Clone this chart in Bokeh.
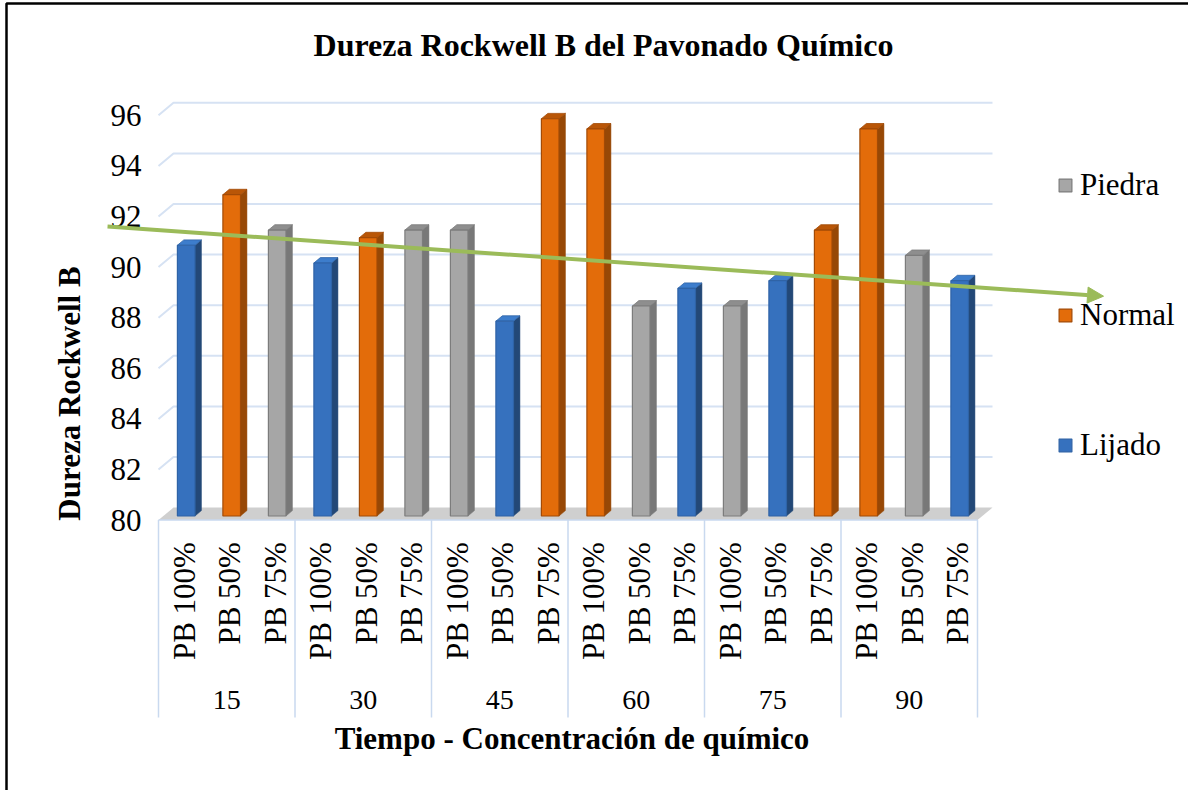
import math
from bokeh.plotting import figure
from bokeh.models import (Range1d, FixedTicker, ColumnDataSource, Legend, LegendItem,
                          Arrow, NormalHead, LinearAxis)
from bokeh.core.properties import value
from bokeh.embed import file_html
from bokeh.resources import INLINE

# ---------------- data ----------------
tiempos = ["15", "30", "45", "60", "75", "90"]
concentraciones = ["PB 100%", "PB 50%", "PB 75%"]
# one slot per category (tiempo x concentración); None = bar belongs to another series
lijado = [90.7, None, None, 90.0, None, None, None, 87.7, None,
          None, None, 89.0, None, 89.3, None, None, None, 89.3]
normal = [None, 92.7, None, None, 91.0, None, None, None, 95.7,
          95.3, None, None, None, None, 91.3, 95.3, None, None]
piedra = [None, None, 91.3, None, None, 91.3, 91.3, None, None,
          None, 88.3, None, 88.3, None, None, None, 90.3, None]
y_ticks = [80, 82, 84, 86, 88, 90, 92, 94, 96]
# hand-drawn trend arrow (category units, hardness units)
tendencia_x = [-1.12, 20.77]
tendencia_y = [91.6, 88.85]

# ---------------- layout constants (canvas px) ----------------
W, H = 1188, 790
PX_X = 45.5                              # px per category
PX_Y = 25.3                              # px per hardness unit
X0_PX = 158                              # canvas x of category edge 0
Y96_PX = 114.8                           # canvas y of value 96 (front plane)
Y_MIN = 80
DEPTH_X = 15 / PX_X
DEPTH_Y = 12.5 / PX_Y
FRONT_F, BACK_F = 0.33, 0.76
HALF_W = 8.8 / PX_X

def x_at(px):
    return (px - X0_PX) / PX_X

def v_at(py):
    return 96 - (py - Y96_PX) / PX_Y

SERIF = "Liberation Serif"
n_cat = len(tiempos) * len(concentraciones)

p = figure(width=W, height=H, output_backend="svg", toolbar_location=None,
           x_range=Range1d(x_at(0), x_at(W)), y_range=Range1d(v_at(H), v_at(0)),
           min_border=0)
p.outline_line_color = None
p.xgrid.visible = False
p.ygrid.visible = False
p.background_fill_color = "white"
p.border_fill_color = "white"

# outer frame of the picture (left and top edges)
p.line([x_at(6), x_at(6), x_at(W)], [v_at(H), v_at(3), v_at(3)],
       line_color="black", line_width=2.5)

# title
p.text(x=[x_at(603)], y=[v_at(44)], text=["Dureza Rockwell B del Pavonado Químico"],
       text_align="center", text_baseline="middle", text_font=value(SERIF),
       text_font_size=value("32px"), text_font_style="bold", text_color="black")

# y axis, fixed inside the frame
ya = p.yaxis[0]
ya.fixed_location = x_at(157)
ya.bounds = (74, 96)
ya.ticker = FixedTicker(ticks=y_ticks)
ya.axis_line_color = None
ya.major_tick_line_color = None
ya.minor_tick_line_color = None
ya.major_label_standoff = 10
ya.major_label_text_font = SERIF
ya.major_label_text_font_size = "31px"
ya.major_label_text_color = "black"
ya.axis_label = "Dureza Rockwell B"
ya.axis_label_text_font = SERIF
ya.axis_label_text_font_size = "31px"
ya.axis_label_text_font_style = "bold"
ya.axis_label_text_color = "black"
ya.axis_label_standoff = 21

# x axis: concentraciones (rotated, reading upwards)
sub_x = [i + 0.5 + 3 / PX_X for i in range(n_cat)]
sub_t = [c for _ in tiempos for c in concentraciones]
xa = p.xaxis[0]
xa.fixed_location = Y_MIN
xa.bounds = (0, n_cat)
xa.ticker = FixedTicker(ticks=sub_x)
xa.major_label_overrides = {x: t for x, t in zip(sub_x, sub_t)}
xa.major_label_orientation = math.pi / 2
xa.axis_line_color = None
xa.major_tick_line_color = None
xa.minor_tick_line_color = None
xa.major_label_standoff = 16
xa.major_label_text_font = SERIF
xa.major_label_text_font_size = "31px"
xa.major_label_text_color = "black"

# x axis: tiempos + axis title
grp_x = [g * len(concentraciones) + len(concentraciones) / 2 for g in range(len(tiempos))]
xg = LinearAxis(fixed_location=Y_MIN, bounds=(0, 2 * x_at(571.5)),
                ticker=FixedTicker(ticks=grp_x),
                major_label_overrides={x: t for x, t in zip(grp_x, tiempos)},
                axis_line_color=None, major_tick_line_color=None,
                minor_tick_line_color=None, major_label_standoff=165,
                major_label_text_font=SERIF, major_label_text_font_size="28px",
                major_label_text_color="black",
                axis_label="Tiempo - Concentración de químico",
                axis_label_text_font=SERIF, axis_label_text_font_size="31px",
                axis_label_text_font_style="bold", axis_label_text_color="black",
                axis_label_standoff=8)
p.add_layout(xg, "below")

# floor
p.patch([0, n_cat, n_cat + DEPTH_X, DEPTH_X],
        [Y_MIN, Y_MIN, Y_MIN + DEPTH_Y, Y_MIN + DEPTH_Y],
        fill_color="#cfcfcf", line_color=None)

# back-wall gridlines with the left diagonal stubs
grid_xs = [[0, DEPTH_X, n_cat + DEPTH_X] for v in y_ticks[1:]]
grid_ys = [[v, v + DEPTH_Y, v + DEPTH_Y] for v in y_ticks[1:]]
p.multi_line(grid_xs, grid_ys, line_color="#d6e2f3", line_width=2)

# category table lines
p.line([0, n_cat], [Y_MIN, Y_MIN], line_color="#c9d9ef", line_width=1.5)
sep_x = [g * len(concentraciones) for g in range(len(tiempos) + 1)]
sep_bottom = v_at(717)
p.segment(x0=sep_x, y0=[Y_MIN] * len(sep_x), x1=sep_x, y1=[sep_bottom] * len(sep_x),
          line_color="#c9d9ef", line_width=1.5)

# bars (pseudo 3-D)
styles = {
    "Lijado": dict(face="#3671be", line="#2f63a6", side="#234877", cap="#3d7dcc"),
    "Normal": dict(face="#e36c0a", line="#a24a06", side="#974806", cap="#b95607"),
    "Piedra": dict(face="#a6a6a6", line="#7c7c7c", side="#787878", cap="#8e8e8e"),
}
ddx = (BACK_F - FRONT_F) * DEPTH_X
ddy = (BACK_F - FRONT_F) * DEPTH_Y
face_renderers = {}
for name, vals in [("Lijado", lijado), ("Normal", normal), ("Piedra", piedra)]:
    st = styles[name]
    idx = [i for i, v in enumerate(vals) if v is not None]
    tops = [vals[i] + FRONT_F * DEPTH_Y for i in idx]
    lefts = [i + 0.5 - HALF_W + FRONT_F * DEPTH_X for i in idx]
    rights = [i + 0.5 + HALF_W + FRONT_F * DEPTH_X for i in idx]
    bottom = Y_MIN + FRONT_F * DEPTH_Y
    side_xs = [[r, r, r + ddx, r + ddx] for r in rights]
    side_ys = [[bottom, t, t + ddy, bottom + ddy] for t in tops]
    p.patches(side_xs, side_ys, fill_color=st["side"], line_color=st["side"], line_width=0.5)
    cap_xs = [[l, r, r + ddx, l + ddx] for l, r in zip(lefts, rights)]
    cap_ys = [[t, t, t + ddy, t + ddy] for t in tops]
    p.patches(cap_xs, cap_ys, fill_color=st["cap"], line_color=st["line"], line_width=0.8)
    src = ColumnDataSource(dict(left=lefts, right=rights, top=tops,
                                bottom=[bottom] * len(idx)))
    face_renderers[name] = p.quad(left="left", right="right", top="top", bottom="bottom",
                                  source=src, fill_color=st["face"], line_color=st["line"],
                                  line_width=1.2)

# trend arrow
GREEN = "#9bbb59"
p.add_layout(Arrow(end=NormalHead(size=16, fill_color=GREEN, line_color=GREEN),
                   x_start=tendencia_x[0], y_start=tendencia_y[0],
                   x_end=tendencia_x[1], y_end=tendencia_y[1],
                   line_color=GREEN, line_width=4))

# legend
ITEM_H = 36
SPACING = 130 - ITEM_H
legend = Legend(items=[LegendItem(label="Piedra", renderers=[face_renderers["Piedra"]]),
                       LegendItem(label="Normal", renderers=[face_renderers["Normal"]]),
                       LegendItem(label="Lijado", renderers=[face_renderers["Lijado"]])],
                location=(1057, H - (445 + ITEM_H / 2)),
                orientation="vertical", spacing=SPACING, padding=0, margin=0,
                glyph_width=16, glyph_height=16, label_standoff=7,
                label_text_font=SERIF, label_text_font_size="31px",
                label_text_color="black", border_line_color=None,
                background_fill_alpha=0)
p.add_layout(legend)

open("out.html", "w").write(file_html(p, INLINE))
